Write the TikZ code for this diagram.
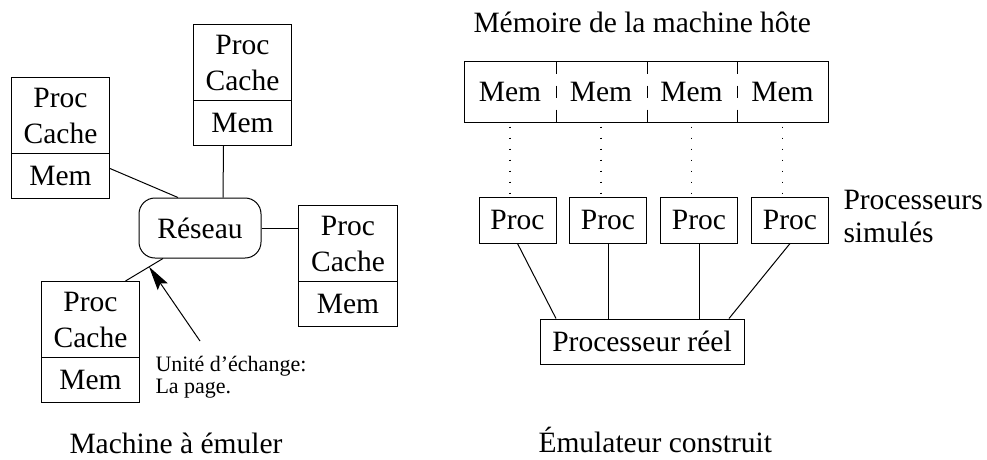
\documentclass[tikz,border=0pt]{standalone}
\usepackage{fontspec}
\setmainfont{Liberation Serif}
\usetikzlibrary{arrows.meta,calc}
\begin{document}
\begin{tikzpicture}[x=1pt,y=-1pt,line width=1pt,
  big/.style={font=\fontsize{29.5}{36}\selectfont},
  small/.style={font=\fontsize{22}{21}\selectfont,inner sep=0pt},
  cell/.style={draw,inner sep=0pt,align=center,big},
  label/.style={big,inner sep=0pt,anchor=base west},
  memcell/.style={inner sep=0pt,big,minimum width=91pt,minimum height=60pt},
  procbox/.style={draw,inner sep=0pt,big,minimum width=77pt,minimum height=46pt},
  memdash/.style={dash pattern=on 12pt off 12pt},
  dotline/.style={line width=1.2pt,dash pattern=on 1.4pt off 9.6pt,dash phase=7pt}]
\useasboundingbox (0,0) rectangle (987,459);

% ---------- left: machine to emulate ----------
\node[cell,minimum width=98pt,minimum height=76pt,anchor=north west] (Lu) at (11,77) {Proc\\Cache};
\node[cell,minimum width=98pt,minimum height=45pt,anchor=north west] (Lm) at (11,153) {Mem};
\node[cell,minimum width=98pt,minimum height=76pt,anchor=north west] (Tu) at (193,24) {Proc\\Cache};
\node[cell,minimum width=98pt,minimum height=45pt,anchor=north west] (Tm) at (193,100) {Mem};
\node[cell,minimum width=99pt,minimum height=76pt,anchor=north west] (Ru) at (298,205) {Proc\\Cache};
\node[cell,minimum width=99pt,minimum height=45pt,anchor=north west] (Rm) at (298,281) {Mem};
\node[cell,minimum width=98pt,minimum height=76pt,anchor=north west] (Bu) at (41,281) {Proc\\Cache};
\node[cell,minimum width=98pt,minimum height=45pt,anchor=north west] (Bm) at (41,357) {Mem};

\node[draw,rounded corners=16pt,minimum width=122pt,minimum height=60pt,inner sep=0pt,big] (res) at (200,228) {Réseau};

\draw ([yshift=7.5pt]Lm.east) -- ([xshift=-22pt]res.north);
\draw ([xshift=-19pt]Tm.south) -- ([xshift=23pt]res.north);
\draw (res.east) -- (res.east -| Ru.west);
\draw ([xshift=35pt]Bu.north) -- coordinate[pos=0.63] (tip) ([xshift=-37pt]res.south);

\node[small,anchor=base west] (t1) at (155,371) {Unité d’échange:};
\node[small,anchor=base west] (t2) at (155,393) {La page.};
\draw[-{Stealth[length=24pt,width=12pt,inset=4pt]}] ([xshift=45pt,yshift=30pt]t1.base west) -- (tip);

\node[label] (lab1) at (69,453) {Machine à émuler};

% ---------- right: built emulator ----------
\node[label] (title) at (473,32) {Mémoire de la machine hôte};

\node[memcell] (m1) at (510,92) {Mem};
\node[memcell] (m2) at (601,92) {Mem};
\node[memcell] (m3) at (691.5,92) {Mem};
\node[memcell] (m4) at (782.5,92) {Mem};
\draw (m1.north west) rectangle (m4.south east);
\draw[memdash] (m1.north east) -- (m1.south east);
\draw[memdash] (m2.north east) -- (m2.south east);
\draw[memdash] (m3.north east) -- (m3.south east);

\node[procbox] (p1) at (517.5,220) {Proc};
\node[procbox] (p2) at (608,220) {Proc};
\node[procbox] (p3) at (699,220) {Proc};
\node[procbox] (p4) at (790,220) {Proc};

\foreach \i in {1,2,3,4}{
  \draw[dotline] (m\i.south) -- (m\i.south |- p\i.north);
}

\node[draw,inner sep=0pt,big,minimum width=204pt,minimum height=45pt] (real) at (642,341.5) {Processeur réel};

\draw (p1.south) -- ([xshift=-86pt]real.north);
\draw (p2.south) -- (p2.south |- real.north);
\draw (p3.south) -- (p3.south |- real.north);
\draw (p4.south) -- ([xshift=87pt]real.north);

\node[label] (ps1) at (843,209) {Processeurs};
\node[label] (ps2) at (843,242) {simulés};

\node[label] (lab2) at (538,452) {Émulateur construit};
\end{tikzpicture}
\end{document}
